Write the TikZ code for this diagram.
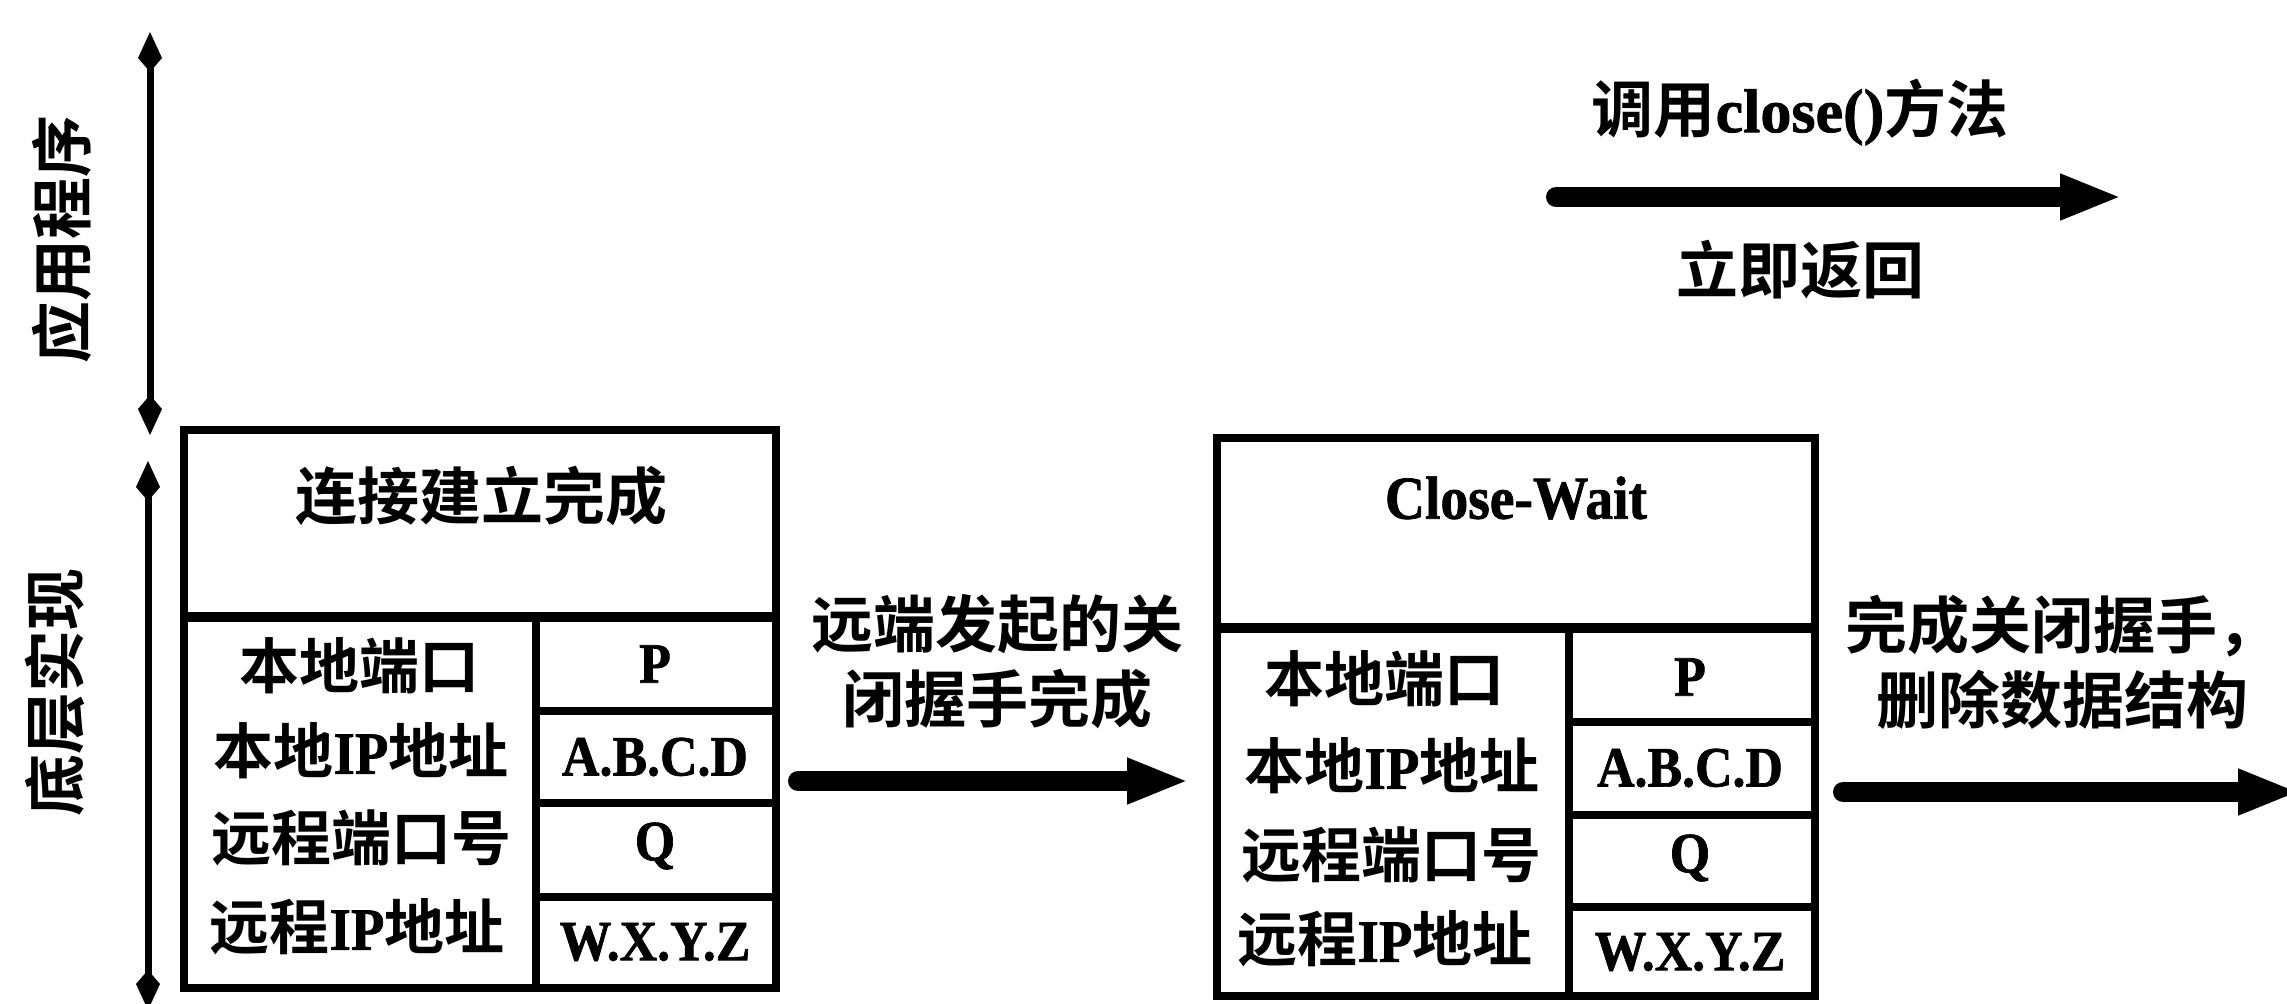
\documentclass[tikz,border=0pt]{standalone}
\usepackage{fontspec}
\usetikzlibrary{arrows.meta}
\setmainfont{Liberation Serif}[FakeStretch=0.91, FakeBold=1.2]
\newfontfamily\cjk{Noto Sans CJK SC Bold}
\newfontfamily\latw{Liberation Serif}[FakeBold=1.2]
\newcommand\lsf{\rmfamily\bfseries}
\newcommand\lw[1]{{\latw\bfseries #1}}
\newcommand\ls[1]{{\lsf #1}}
\tikzset{
  frame/.style={line width=8pt},
  sepline/.style={line width=10pt},
  cjkt/.style={font=\cjk\fontsize{62}{75}\selectfont, inner sep=0pt, align=center},
  lbl/.style={font=\cjk\fontsize{60}{70}\selectfont, inner sep=0pt},
  val/.style={font=\lsf\fontsize{57}{60}\selectfont, inner sep=0pt},
  ttl/.style={font=\lsf\fontsize{61}{64}\selectfont, inner sep=0pt},
  bigarrow/.style={line width=20pt, line cap=round, -{Triangle[length=62pt,width=42pt]}},
  axisarrow/.style={line width=7pt, {Kite[length=40pt,width=24pt,inset=14pt]}-{Kite[length=40pt,width=24pt,inset=14pt]}}
}
\begin{document}
\begin{tikzpicture}[x=1pt,y=-1pt]
\useasboundingbox (0,0) rectangle (2287,1004);
\clip (0,0) rectangle (2287,1004);
\fill[white] (0,0) rectangle (2287,1004);

% side labels and axes
\node[cjkt, rotate=90] (app) at (62,239) {应用程序};
\node[cjkt, rotate=90] (impl) at (55,692) {底层实现};
\coordinate (a1) at (150,32);
\coordinate (a2) at (150,435);
\coordinate (b1) at (148,461);
\coordinate (b2) at (148,1010);
\draw[axisarrow] (a1) -- (a2);
\draw[axisarrow] (b1) -- (b2);

% box 1
\draw[frame] (184,430) rectangle (776,988);
\draw[sepline] (184,617) -- (776,617);
\draw[frame] (536,617) -- (536,988);
\draw[frame] (536,711) -- (776,711);
\draw[frame] (536,803) -- (776,803);
\draw[frame] (536,897) -- (776,897);
\node[cjkt] (t1) at (481,496) {连接建立完成};
\node[lbl] (l11) at (359,666) {本地端口};
\node[lbl] (l12) at (361,751) {本地\ls{IP}地址};
\node[lbl] (l13) at (361,838) {远程端口号};
\node[lbl] (l14) at (357,927) {远程\ls{IP}地址};
\node[val] (v11) at (655,664) {P};
\node[val] (v12) at (655,757) {A.B.C.D};
\node[val] (v13) at (655,846) {Q};
\node[val] (v14) at (655,942) {W.X.Y.Z};

% box 2
\draw[frame] (1217,438) rectangle (1815,996);
\draw[sepline] (1217,628) -- (1815,628);
\draw[frame] (1569,628) -- (1569,996);
\draw[frame] (1569,722) -- (1815,722);
\draw[frame] (1569,815) -- (1815,815);
\draw[frame] (1569,907) -- (1815,907);
\node[ttl] (t2) at (1516,498) {Close-Wait};
\node[lbl] (l21) at (1384,679) {本地端口};
\node[lbl] (l22) at (1392,766) {本地\ls{IP}地址};
\node[lbl] (l23) at (1391,855) {远程端口号};
\node[lbl] (l24) at (1385,939) {远程\ls{IP}地址};
\node[val] (v21) at (1690,677) {P};
\node[val] (v22) at (1690,768) {A.B.C.D};
\node[val] (v23) at (1690,858) {Q};
\node[val] (v24) at (1690,952) {W.X.Y.Z};

% arrow 1
\node[cjkt] (m1) at (997,662) {远端发起的关\\闭握手完成};
\coordinate (p1) at (798,781);
\coordinate (p2) at (1189,781);
\draw[bigarrow] (p1) -- (p2);

% top arrow
\node[cjkt] (top1) at (1800,112) {调用\lw{close()}方法};
\coordinate (q1) at (1556,197);
\coordinate (q2) at (2122,197);
\draw[bigarrow] (q1) -- (q2);
\node[cjkt] (top2) at (1800,270) {立即返回};

% right arrow
\node[cjkt] (r1) at (2062,662) {完成关闭握手，\\删除数据结构};
\coordinate (s1) at (1843,792);
\coordinate (s2) at (2300,792);
\draw[bigarrow] (s1) -- (s2);
\end{tikzpicture}
\end{document}
